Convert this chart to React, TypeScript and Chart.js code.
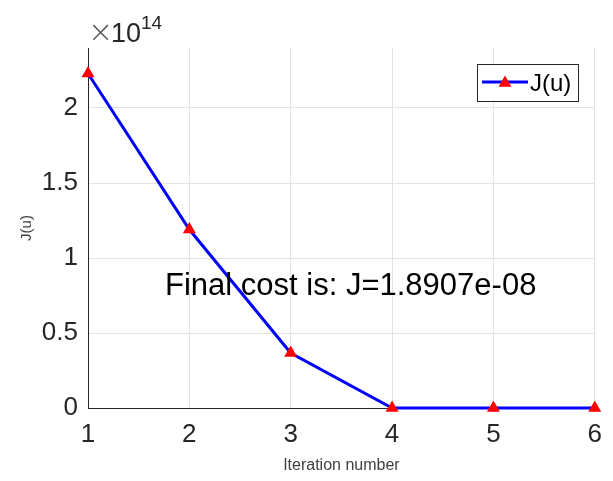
import React, { useEffect, useRef } from "react";
import { Chart, registerables } from "chart.js";

Chart.register(...registerables);

const iterations = [1, 2, 3, 4, 5, 6];
const costs = [2.23e14, 1.19e14, 0.367e14, 0, 0, 1.8907e-8];
const yTickValues = [0, 0.5, 1, 1.5, 2];
const seriesLabel = "J(u)";
const annotationText = "Final cost is: J=1.8907e-08";
const xTitle = "Iteration number";
const yTitle = "J(u)";

const FONT = "'Liberation Sans', Arial, Helvetica, sans-serif";
const AXIS_COLOR = "#262626";
const GRID_COLOR = "#e3e3e3";

const drawTriangle = (ctx: CanvasRenderingContext2D, x: number, y: number, r: number) => {
  ctx.beginPath();
  let rad = 0;
  ctx.moveTo(x + Math.sin(rad) * r, y - Math.cos(rad) * r);
  rad += (2 * Math.PI) / 3;
  ctx.lineTo(x + Math.sin(rad) * r, y - Math.cos(rad) * r);
  rad += (2 * Math.PI) / 3;
  ctx.lineTo(x + Math.sin(rad) * r, y - Math.cos(rad) * r);
  ctx.closePath();
  ctx.fill();
};

const extrasPlugin = {
  id: "extras",
  afterDraw(chart: any) {
    const ctx: CanvasRenderingContext2D = chart.ctx;
    const xs = chart.scales.x;
    const ys = chart.scales.y;
    ctx.save();
    // exponent label
    ctx.textBaseline = "alphabetic";
    ctx.textAlign = "left";
    ctx.font = `200 30px 'DejaVu Sans', ${FONT}`;
    ctx.fillStyle = "#555555";
    ctx.fillText("\u00d7", 88, 42);
    ctx.fillStyle = AXIS_COLOR;
    ctx.font = `27px ${FONT}`;
    ctx.fillText("10", 111, 42);
    ctx.font = `19px ${FONT}`;
    ctx.fillText("14", 141, 29);

    // annotation text
    ctx.fillStyle = "#000000";
    ctx.font = `31px ${FONT}`;
    ctx.textBaseline = "middle";
    ctx.fillText(annotationText, xs.getPixelForValue(1.76), ys.getPixelForValue(0.81e14));

    // legend box
    const bx = 477, by = 64, bw = 101, bh = 37;
    ctx.fillStyle = "#ffffff";
    ctx.fillRect(bx, by, bw, bh);
    ctx.strokeStyle = AXIS_COLOR;
    ctx.lineWidth = 1;
    ctx.strokeRect(bx + 0.5, by + 0.5, bw, bh);
    const ds = chart.data.datasets[0];
    ctx.strokeStyle = ds.borderColor;
    ctx.lineWidth = 3;
    ctx.beginPath();
    ctx.moveTo(482, 82);
    ctx.lineTo(528, 82);
    ctx.stroke();
    ctx.fillStyle = ds.pointBackgroundColor;
    drawTriangle(ctx, 505, 83, 7.5);
    ctx.fillStyle = "#000000";
    ctx.font = `24px ${FONT}`;
    ctx.textBaseline = "middle";
    ctx.fillText(ds.label, 530, 84);
    ctx.restore();
  },
};

export default function App() {
  const ref = useRef<HTMLCanvasElement | null>(null);
  useEffect(() => {
    if (!ref.current) return;
    const chart = new Chart(ref.current, {
      type: "line",
      data: {
        datasets: [
          {
            label: seriesLabel,
            data: iterations.map((x, i) => ({ x, y: costs[i] })),
            borderColor: "#0000ff",
            borderWidth: 3,
            pointStyle: "triangle",
            pointRadius: 7.5,
            pointBackgroundColor: "#ff0000",
            pointBorderColor: "#ff0000",
            pointBorderWidth: 0,
            tension: 0,
            clip: false as any,
          },
        ],
      },
      options: {
        animation: false,
        responsive: false,
        devicePixelRatio: 1,
        layout: { padding: { top: 48, right: 17, left: 0, bottom: 0 } },
        plugins: { legend: { display: false }, tooltip: { enabled: false } },
        scales: {
          x: {
            type: "linear",
            min: 1,
            max: 6,
            afterFit: (s: any) => {
              s.height = 73;
            },
            ticks: {
              stepSize: 1,
              padding: 11,
              color: AXIS_COLOR,
              font: { family: FONT, size: 26 },
              maxRotation: 0,
            },
            grid: { color: GRID_COLOR, drawTicks: false },
            border: { color: AXIS_COLOR, width: 1 },
            title: {
              display: true,
              text: xTitle,
              color: "#404040",
              font: { family: FONT, size: 16 },
              padding: { top: 0, bottom: 6 },
            },
          },
          y: {
            type: "linear",
            min: 0,
            max: 2.4e14,
            afterFit: (s: any) => {
              s.width = 88;
            },
            afterBuildTicks: (s: any) => {
              s.ticks = yTickValues.map((v) => ({ value: v * 1e14 }));
            },
            ticks: {
              padding: 10,
              color: AXIS_COLOR,
              font: { family: FONT, size: 26 },
              callback: (v: any) => String(Math.round(Number(v) / 1e13) / 10),
            },
            grid: { color: GRID_COLOR, drawTicks: false },
            border: { color: AXIS_COLOR, width: 1 },
            title: {
              display: true,
              text: yTitle,
              color: "#404040",
              font: { family: FONT, size: 15 },
              padding: { top: 18, bottom: 0 },
            },
          },
        },
      },
      plugins: [extrasPlugin],
    });
    return () => chart.destroy();
  }, []);
  return (
    <div style={{ position: "fixed", left: 0, top: 0, width: 613, height: 481, background: "#fff" }}>
      <canvas ref={ref} width={613} height={481} style={{ width: 613, height: 481 }} />
    </div>
  );
}
